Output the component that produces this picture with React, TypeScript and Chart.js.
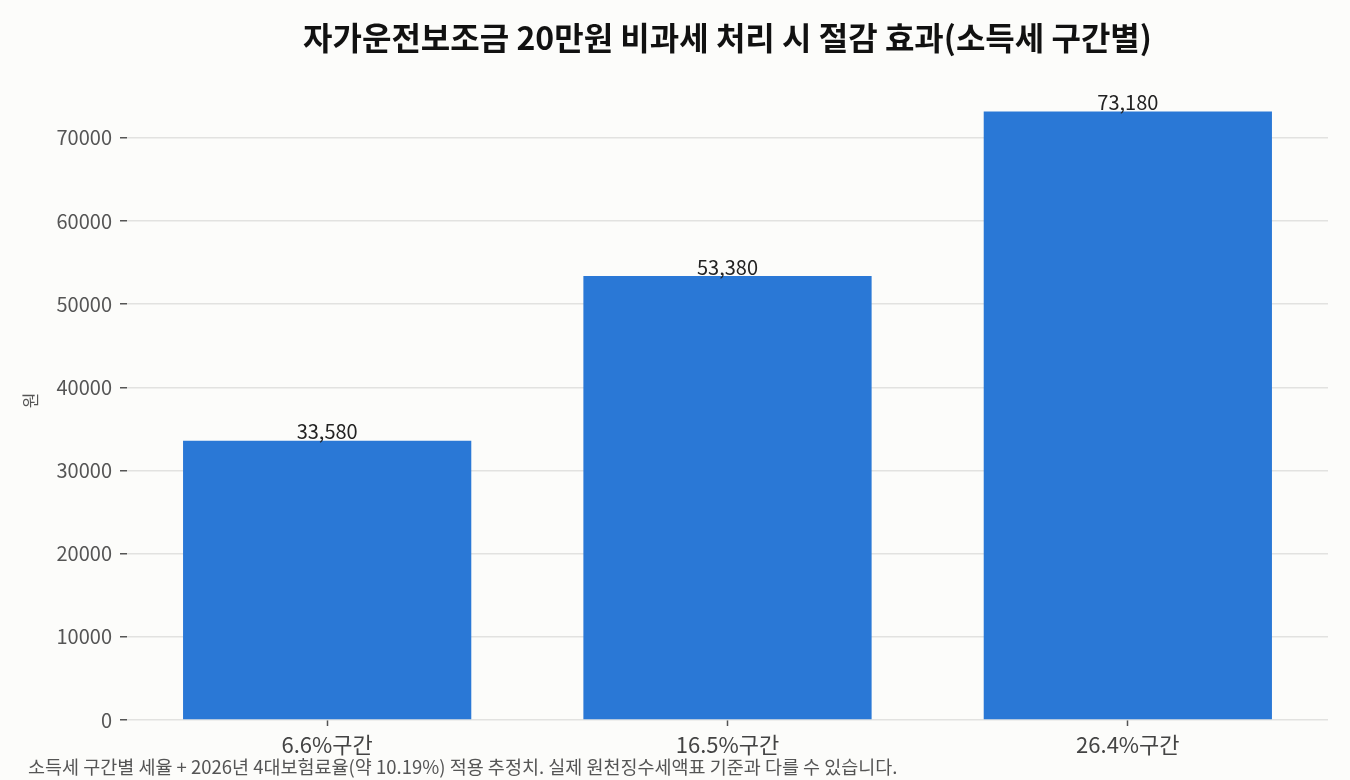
import React, { useEffect, useRef } from "react";
import { Chart, registerables } from "chart.js";

Chart.register(...registerables);

const TITLE = "자가운전보조금 20만원 비과세 처리 시 절감 효과(소득세 구간별)";
const FOOTNOTE = "소득세 구간별 세율 + 2026년 4대보험료율(약 10.19%) 적용 추정치. 실제 원천징수세액표 기준과 다를 수 있습니다.";
const Y_TITLE = "원";
const categories = ["6.6%구간", "16.5%구간", "26.4%구간"];
const savings = [33580, 53380, 73180];
const yTicks = [0, 10000, 20000, 30000, 40000, 50000, 60000, 70000];

const FONT = "'Noto Sans CJK KR', 'Noto Sans', sans-serif";

export default function App() {
  const ref = useRef<HTMLCanvasElement | null>(null);
  useEffect(() => {
    if (!ref.current) return;
    const labelPlugin = {
      id: "labels",
      afterDraw(chart: any) {
        const ctx = chart.ctx;
        const area = chart.chartArea;
        ctx.save();
        // title
        ctx.fillStyle = "#111";
        ctx.font = `bold 32px ${FONT}`;
        ctx.textAlign = "center";
        ctx.textBaseline = "middle";
        ctx.fillText(TITLE, (area.left + area.right) / 2, 38);
        // data labels
        const meta = chart.getDatasetMeta(0);
        ctx.font = `20px ${FONT}`;
        ctx.fillStyle = "#222";
        ctx.textBaseline = "bottom";
        meta.data.forEach((bar: any, i: number) => {
          ctx.fillText(savings[i].toLocaleString("en-US"), bar.x, bar.y + 1);
        });
        // footnote
        ctx.font = `18.5px ${FONT}`;
        ctx.fillStyle = "#555";
        ctx.textAlign = "left";
        ctx.textBaseline = "middle";
        ctx.fillText(FOOTNOTE, 28, 767);
        ctx.restore();
      },
    };
    const chart = new Chart(ref.current, {
      type: "bar",
      data: {
        labels: categories,
        datasets: [
          {
            data: savings,
            backgroundColor: "#2a78d6",
            barPercentage: 0.72,
            categoryPercentage: 1,
          },
        ],
      },
      options: {
        animation: false,
        responsive: false,
        devicePixelRatio: 1,
        layout: { padding: { top: 81, right: 22, left: 20, bottom: 0 } },
        plugins: { legend: { display: false }, tooltip: { enabled: false } },
        scales: {
          x: {
            offset: true,
            grid: { display: true, drawOnChartArea: false, offset: false, color: "rgba(0,0,0,0)", tickLength: 6, tickColor: "#555", tickWidth: 1.5 },
            border: { display: false },
            ticks: { color: "#444", font: { family: FONT, size: 22 }, padding: 5 },
            afterFit: (s: any) => { s.height = 60; },
          },
          y: {
            min: 0,
            max: 76839,
            afterBuildTicks: (s: any) => { s.ticks = yTicks.map((v) => ({ value: v })); },
            grid: { color: "#e2e2e0", lineWidth: 1.5, tickLength: 7, tickColor: "#555" },
            border: { display: false },
            ticks: { color: "#555", font: { family: FONT, size: 20 }, padding: 8, callback: (v: any) => String(v) },
            title: { display: true, text: Y_TITLE, color: "#555", font: { family: FONT, size: 17 }, padding: 0 },
            afterFit: (s: any) => { s.width = 107; },
          },
        },
      },
      plugins: [labelPlugin],
    });
    return () => chart.destroy();
  }, []);
  return (
    <div style={{ position: "fixed", left: 0, top: 0, width: 1350, height: 780, background: "#fcfcfa" }}>
      <canvas ref={ref} width={1350} height={780} style={{ width: 1350, height: 780 }} />
    </div>
  );
}
